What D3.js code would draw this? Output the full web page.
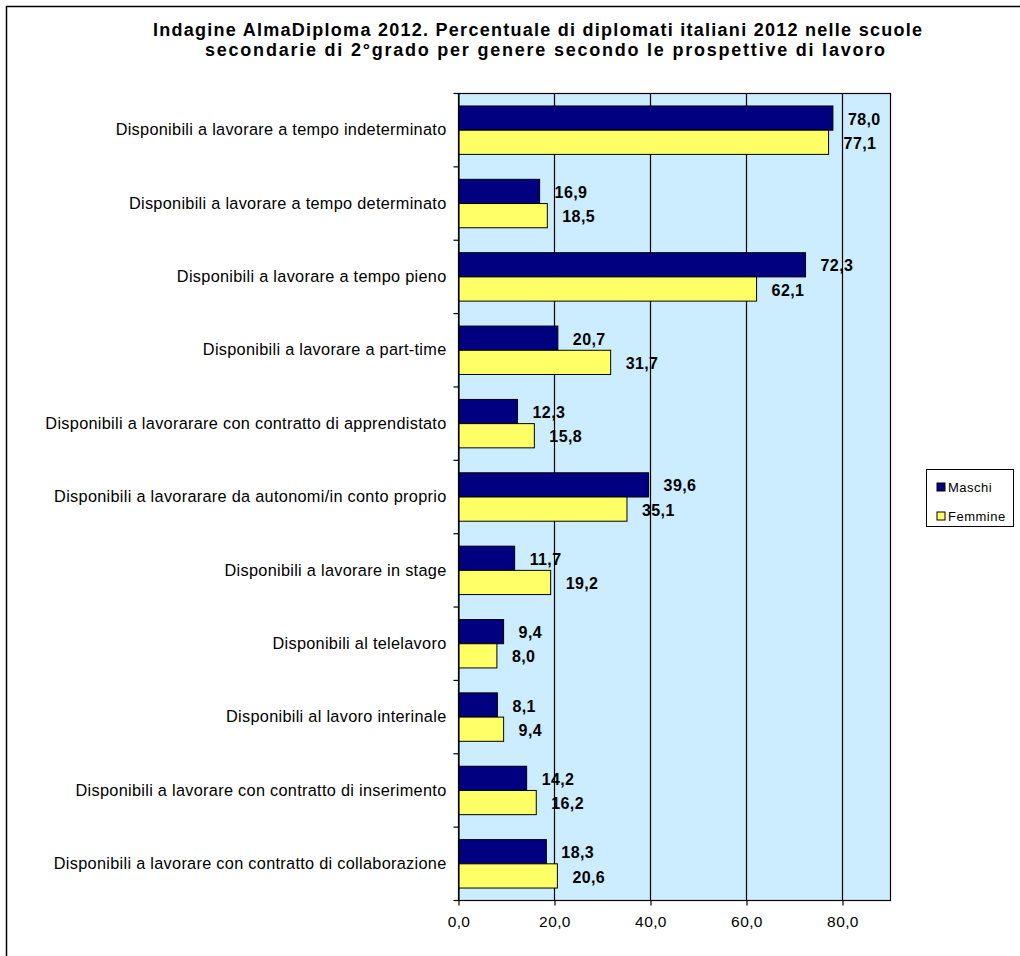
<!DOCTYPE html>
<html><head><meta charset="utf-8">
<script src="https://cdn.jsdelivr.net/npm/d3@7"></script>
<style>body{margin:0;background:#fff}svg{display:block;font-family:"Liberation Sans",Arial,sans-serif}</style>
</head><body>
<svg id="c" width="1020" height="956"></svg>
<script>
const categories = [
  "Disponibili a lavorare a tempo indeterminato",
  "Disponibili a lavorare a tempo determinato",
  "Disponibili a lavorare a tempo pieno",
  "Disponibili a lavorare a part-time",
  "Disponibili a lavorarare con contratto di apprendistato",
  "Disponibili a lavorarare da autonomi/in conto proprio",
  "Disponibili a lavorare in stage",
  "Disponibili al telelavoro",
  "Disponibili al lavoro interinale",
  "Disponibili a lavorare con contratto di inserimento",
  "Disponibili a lavorare con contratto di collaborazione"
];
const maschi  = [78.0, 16.9, 72.3, 20.7, 12.3, 39.6, 11.7, 9.4, 8.1, 14.2, 18.3];
const femmine = [77.1, 18.5, 62.1, 31.7, 15.8, 35.1, 19.2, 8.0, 9.4, 16.2, 20.6];
const seriesNames = ["Maschi", "Femmine"];
const seriesColors = ["#000080", "#FFFF66"];
const xTicks = [0, 20, 40, 60, 80];
const titleLines = [
  "Indagine AlmaDiploma 2012. Percentuale di diplomati italiani 2012 nelle scuole",
  "secondarie di 2°grado per genere secondo le prospettive di lavoro"
];

const svg = d3.select("#c");
const fmt = v => v.toFixed(1).replace(".", ",");

// outer frame
svg.append("rect").attr("x", 6.5).attr("y", 6.5).attr("width", 1040).attr("height", 1000)
  .attr("fill", "#fff").attr("stroke", "#000").attr("stroke-width", 1.5);

const L = 458.5, R = 890.5, T = 93.5, B = 900.5;
const x = d3.scaleLinear().domain([0, 90]).range([L, R]);
const y = d3.scaleBand().domain(categories).range([T, B]).paddingInner(0.34).paddingOuter(0.17);
const ys = d3.scaleBand().domain(seriesNames).range([0, y.bandwidth()]);

// title
const titleX = [153, 205], titleW = [769, 680];
svg.append("g").selectAll("text").data(titleLines).join("text")
  .attr("x", (d, i) => titleX[i]).attr("y", (d, i) => 36 + i * 19.5)
  .attr("font-weight", "bold").attr("font-size", 18)
  .attr("textLength", (d, i) => titleW[i]).attr("lengthAdjust", "spacing")
  .text(d => d);

// plot background
svg.append("rect").attr("x", L).attr("y", T).attr("width", R - L).attr("height", B - T)
  .attr("fill", "#CCECFF");

// gridlines
svg.append("g").selectAll("line").data(xTicks.filter(d => d > 0)).join("line")
  .attr("x1", d => x(d)).attr("x2", d => x(d)).attr("y1", T).attr("y2", B)
  .attr("stroke", "#000").attr("stroke-width", 1.2);

// plot border
svg.append("rect").attr("x", L).attr("y", T).attr("width", R - L).attr("height", B - T)
  .attr("fill", "none").attr("stroke", "#000").attr("stroke-width", 1.2);

// bars
const data = categories.map((c, i) => ({c, vals: [maschi[i], femmine[i]]}));
const g = svg.append("g").selectAll("g").data(data).join("g")
  .attr("transform", d => `translate(0,${y(d.c)})`);
g.selectAll("rect").data(d => d.vals.map((v, j) => ({v, s: seriesNames[j], j}))).join("rect")
  .attr("x", x(0)).attr("y", d => ys(d.s))
  .attr("width", d => x(d.v) - x(0)).attr("height", ys.bandwidth())
  .attr("fill", d => seriesColors[d.j]).attr("stroke", "#000").attr("stroke-width", 1);
g.selectAll("text").data(d => d.vals.map((v, j) => ({v, s: seriesNames[j], j}))).join("text")
  .attr("x", d => x(d.v) + 15).attr("y", d => ys(d.s) + ys.bandwidth() / 2 + 1)
  .attr("dy", "0.35em").attr("font-weight", "bold").attr("font-size", 16)
  .attr("letter-spacing", 0.4)
  .text(d => fmt(d.v));

// y axis
const yAxis = d3.axisLeft(y).tickSize(0).tickPadding(12);
const yg = svg.append("g").attr("transform", `translate(${L},0)`).call(yAxis);
yg.select(".domain").attr("stroke", "#000").attr("stroke-width", 1.2);
yg.selectAll("text").attr("font-size", 16.3).attr("fill", "#000").attr("letter-spacing", 0.3)
  .attr("font-family", "\"Liberation Sans\",Arial,sans-serif");
// boundary ticks
const bounds = d3.range(categories.length + 1).map(i => T + i * (B - T) / categories.length);
svg.append("g").selectAll("line").data(bounds).join("line")
  .attr("x1", L - 5).attr("x2", L).attr("y1", d => d).attr("y2", d => d)
  .attr("stroke", "#000").attr("stroke-width", 1.2);

// x axis
const xAxis = d3.axisBottom(x).tickValues(xTicks).tickSize(5).tickPadding(10).tickFormat(fmt);
const xg = svg.append("g").attr("transform", `translate(0,${B})`).call(xAxis);
xg.select(".domain").remove();
xg.selectAll("line").attr("stroke", "#000").attr("stroke-width", 1.2);
xg.selectAll("text").attr("font-size", 15.5).attr("fill", "#000").attr("letter-spacing", 0.4)
  .attr("font-family", "\"Liberation Sans\",Arial,sans-serif");

// legend
const lg = svg.append("g");
lg.append("rect").attr("x", 926.5).attr("y", 469.5).attr("width", 87).attr("height", 57)
  .attr("fill", "#fff").attr("stroke", "#000").attr("stroke-width", 1);
const li = lg.selectAll("g").data(seriesNames).join("g")
  .attr("transform", (d, i) => `translate(937,${483 + i * 29})`);
li.append("rect").attr("width", 8).attr("height", 8)
  .attr("fill", (d, i) => seriesColors[i]).attr("stroke", "#000").attr("stroke-width", 1);
li.append("text").attr("x", 11).attr("y", 4).attr("dy", "0.35em").attr("font-size", 13)
  .attr("letter-spacing", 0.5).text(d => d);
</script>
</body></html>
